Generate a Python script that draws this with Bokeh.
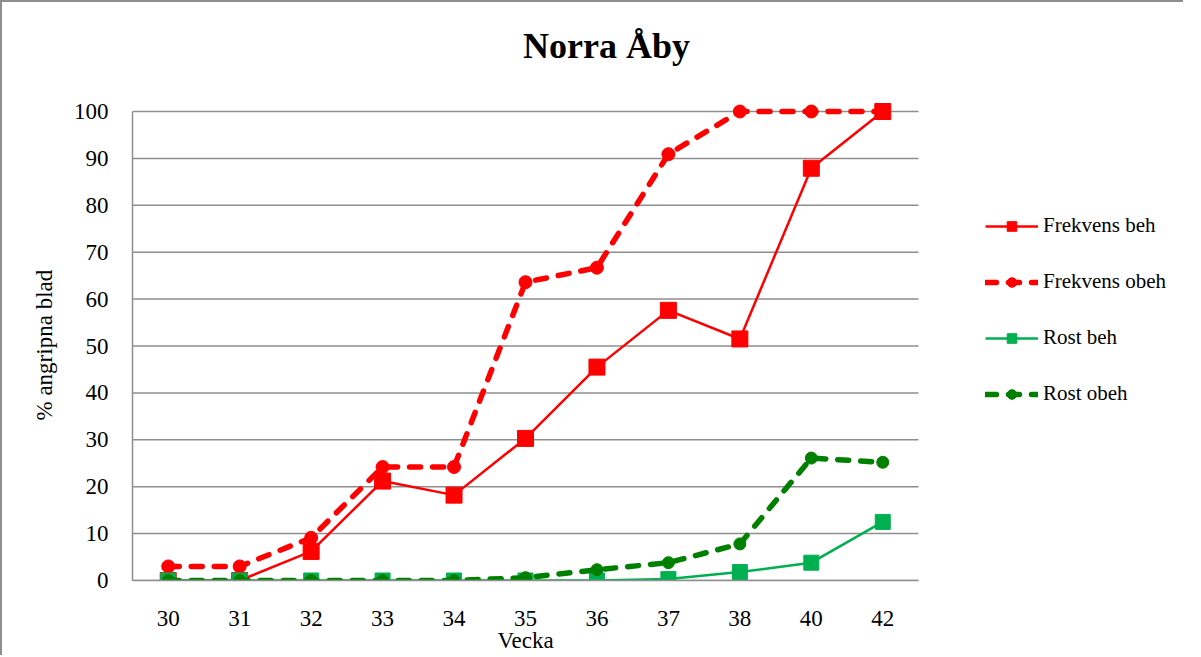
from bokeh.plotting import figure
from bokeh.models import Legend, LegendItem, Label, Range1d, FixedTicker, Title
from bokeh.embed import file_html
from bokeh.resources import INLINE

weeks = ["30", "31", "32", "33", "34", "35", "36", "37", "38", "40", "42"]
frekvens_beh = [0, 0, 6.2, 21.2, 18.2, 30.3, 45.5, 57.6, 51.5, 87.9, 100]
frekvens_obeh = [3, 3, 9.1, 24.2, 24.2, 63.6, 66.7, 90.9, 100, 100, 100]
rost_beh = [0, 0, 0, 0, 0, 0, 0, 0.3, 1.8, 3.8, 12.5]
rost_obeh = [0, 0, 0, 0, 0, 0.6, 2.3, 3.8, 7.8, 26.1, 25.2]
y_ticks = [0, 10, 20, 30, 40, 50, 60, 70, 80, 90, 100]

FONT = "Liberation Serif"
GRID = "#8e8e8e"

# layout (pixels)
W, H = 1183, 655
LEFT, BOTTOM = 130, 77
PLOT_W, PLOT_H = 786, 469          # width of category area, height of 0..100
px_x = PLOT_W / len(weeks)
px_y = PLOT_H / 100
x_pos = list(range(len(weeks)))
x_start = -0.5
x_stop = len(weeks) - 0.5
x_end = x_start + (W - LEFT) / px_x
y_end = (H - BOTTOM) / px_y

p = figure(width=W, height=H, x_range=Range1d(x_start, x_end), y_range=Range1d(0, y_end),
           output_backend="svg", toolbar_location=None, title=None,
           min_border_left=LEFT, min_border_right=0, min_border_top=0, min_border_bottom=BOTTOM)
p.styles = {"border-left": "2px solid #8e8e8e", "border-top": "2px solid #8e8e8e"}
p.outline_line_color = None
p.background_fill_color = "white"
p.border_fill_color = "white"
p.xgrid.grid_line_color = None
p.ygrid.grid_line_color = None

p.xaxis.ticker = FixedTicker(ticks=x_pos)
p.xaxis.major_label_overrides = {i: w for i, w in zip(x_pos, weeks)}
p.xaxis.bounds = (x_start, x_stop)
p.yaxis.ticker = FixedTicker(ticks=y_ticks)
p.yaxis.bounds = (y_ticks[0], y_ticks[-1])

for ax in (p.xaxis[0], p.yaxis[0]):
    ax.axis_line_color = GRID
    ax.axis_line_width = 1.5
    ax.major_tick_line_color = None
    ax.minor_tick_line_color = None
    ax.major_tick_in = 0
    ax.major_tick_out = 0
    ax.major_label_text_font = FONT
    ax.major_label_text_font_size = "23px"
    ax.major_label_text_color = "black"

p.yaxis.major_label_standoff = 24
p.xaxis.major_label_standoff = 30

ylabel = Title(text="% angripna blad", align="left", offset=160, standoff=28,
               text_font=FONT, text_font_size="23px", text_font_style="normal",
               text_color="black")
p.add_layout(ylabel, "left")
xlabel = Title(text="Vecka", align="left", offset=365, standoff=-2, vertical_align="top",
               text_font=FONT, text_font_size="23px", text_font_style="normal",
               text_color="black")
p.add_layout(xlabel, "below")

# horizontal gridlines of the plot area
n = len(y_ticks)
p.segment(x0=[x_start] * n, x1=[x_stop] * n, y0=y_ticks, y1=y_ticks,
          line_color=GRID, line_width=1.5)

r1l = p.line(x_pos, frekvens_beh, line_color="#ff0000", line_width=2.5)
r1m = p.scatter(x_pos, frekvens_beh, marker="square", size=16, fill_color="#ff0000", line_color="#ff0000")
r2l = p.line(x_pos, frekvens_obeh, line_color="#ff0000", line_width=5.5, line_dash="11 12", line_cap="round")
r2m = p.scatter(x_pos, frekvens_obeh, marker="circle", size=13, fill_color="#ff0000", line_color="#ff0000")
r3l = p.line(x_pos, rost_beh, line_color="#00b050", line_width=2.5)
r3m = p.scatter(x_pos, rost_beh, marker="square", size=15, fill_color="#00b050", line_color="#00b050")
r4l = p.line(x_pos, rost_obeh, line_color="#008000", line_width=5.5, line_dash="11 12", line_cap="round")
r4m = p.scatter(x_pos, rost_obeh, marker="circle", size=12, fill_color="#008000", line_color="#008000")

legend = Legend(items=[
    LegendItem(label="Frekvens beh", renderers=[r1l, r1m]),
    LegendItem(label="Frekvens obeh", renderers=[r2l, r2m]),
    LegendItem(label="Rost beh", renderers=[r3l, r3m]),
    LegendItem(label="Rost obeh", renderers=[r4l, r4m]),
], location=(853, 174))
legend.border_line_color = None
legend.background_fill_alpha = 0
legend.padding = 0
legend.margin = 0
legend.spacing = 31
legend.glyph_width = 53
legend.glyph_height = 24
legend.label_height = 24
legend.label_standoff = 5
legend.label_text_font = FONT
legend.label_text_font_size = "21px"
legend.label_text_color = "black"
p.add_layout(legend, "center")

title = Label(x=474, y=535, x_units="screen", y_units="screen", text="Norra Åby",
              text_font=FONT, text_font_size="36px", text_font_style="bold",
              text_align="center", text_baseline="middle", text_color="black")
p.add_layout(title)

open("out.html", "w").write(file_html(p, INLINE))
